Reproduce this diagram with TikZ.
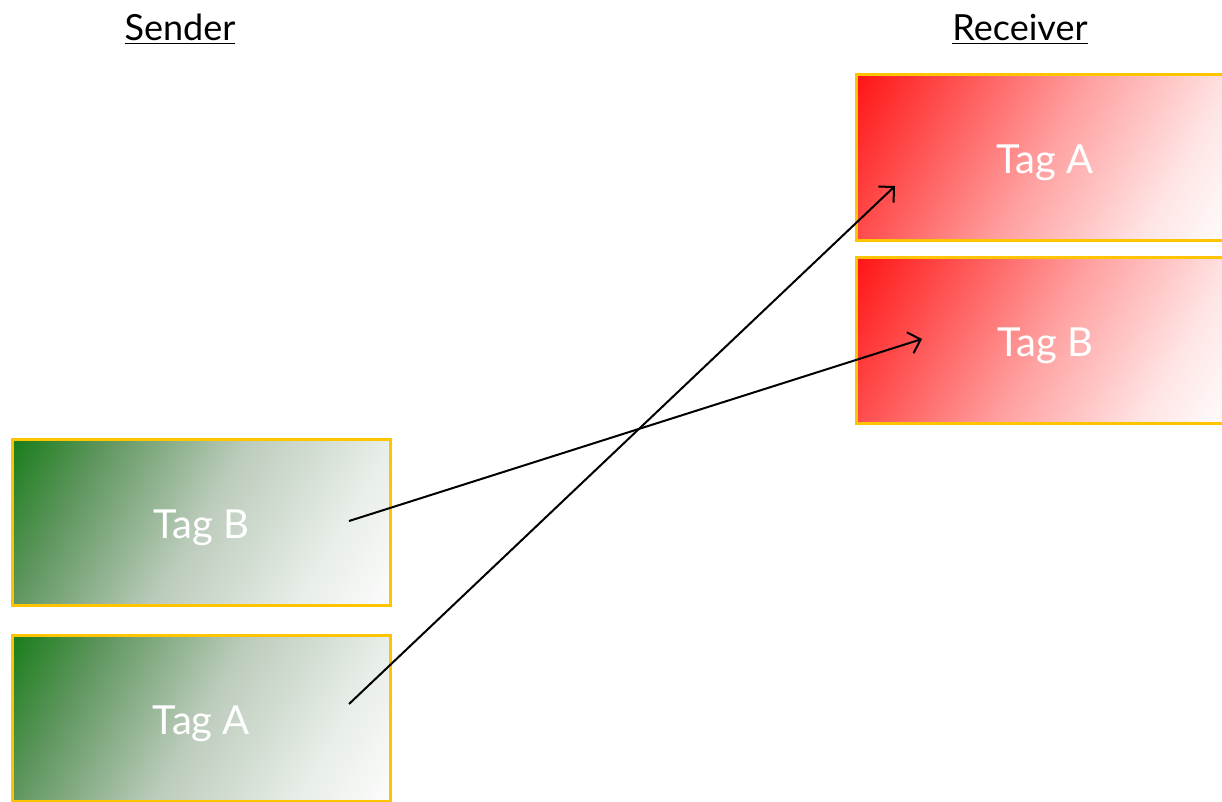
\documentclass[tikz,border=0pt]{standalone}
\usepackage{fontspec}
\setmainfont{Lato}
\usetikzlibrary{arrows.meta}
\definecolor{gold}{RGB}{255,196,0}
\definecolor{g0}{RGB}{25,125,25}
\definecolor{g1}{RGB}{95,150,95}
\definecolor{g2}{RGB}{188,204,188}
\definecolor{g3}{RGB}{232,238,232}
\definecolor{g4}{RGB}{252,252,252}
\definecolor{r0}{RGB}{255,20,20}
\definecolor{r1}{RGB}{255,75,75}
\definecolor{r2}{RGB}{255,160,160}
\definecolor{r3}{RGB}{255,228,228}
\pgfdeclarehorizontalshading{greenfade}{100bp}{color(0bp)=(g0); color(29.4bp)=(g0); color(37.6bp)=(g1); color(50bp)=(g2); color(62.4bp)=(g3); color(70.6bp)=(g4); color(100bp)=(g4)}
\pgfdeclarehorizontalshading{redfade}{100bp}{color(0bp)=(r0); color(29.4bp)=(r0); color(37.6bp)=(r1); color(50bp)=(r2); color(62.4bp)=(r3); color(70.6bp)=(white); color(100bp)=(white)}
\newcommand{\ulin}[1]{\vtop{\hbox{#1}\kern3pt\hrule height 1.2pt}}
\begin{document}
\begin{tikzpicture}[x=1pt,y=-1pt,
  tagbox/.style={draw=gold, line width=3pt, minimum width=378pt, minimum height=166pt,
    inner sep=0pt, text=white, font=\fontsize{40}{46}\selectfont,
    text height=32pt, text depth=0pt,
    path picture={\shade[shading=#1, shading angle=-30]
      ([shift={(-250,-250)}]path picture bounding box.center) rectangle ++(500,500);}},
  title/.style={anchor=base, font=\fontsize{36}{43}\selectfont, inner sep=0pt},
  arr/.style={line width=2pt, -{Straight Barb[length=11pt,width=22pt,line width=2pt]}}]
\useasboundingbox (0,0) rectangle (1222,801);
\clip (0,0) rectangle (1222,801);
\node[title] (snd) at (180,40) {\ulin{Sender}};
\node[title] (rcv) at (1020,40) {\ulin{Receiver}};
\node[tagbox=redfade] (rA) at (1045,157) {Tag A};
\node[tagbox=redfade] (rB) at (1045,340) {Tag B};
\node[tagbox=greenfade] (sB) at (201.5,522) {Tag B};
\node[tagbox=greenfade] (sA) at (201.5,718.5) {Tag A};
\coordinate (tA) at (349,704);
\coordinate (hA) at (895,186);
\coordinate (tB) at (349,521);
\coordinate (hB) at (922,339);
\draw[arr] (tA) -- (hA);
\draw[arr] (tB) -- (hB);
\end{tikzpicture}
\end{document}
